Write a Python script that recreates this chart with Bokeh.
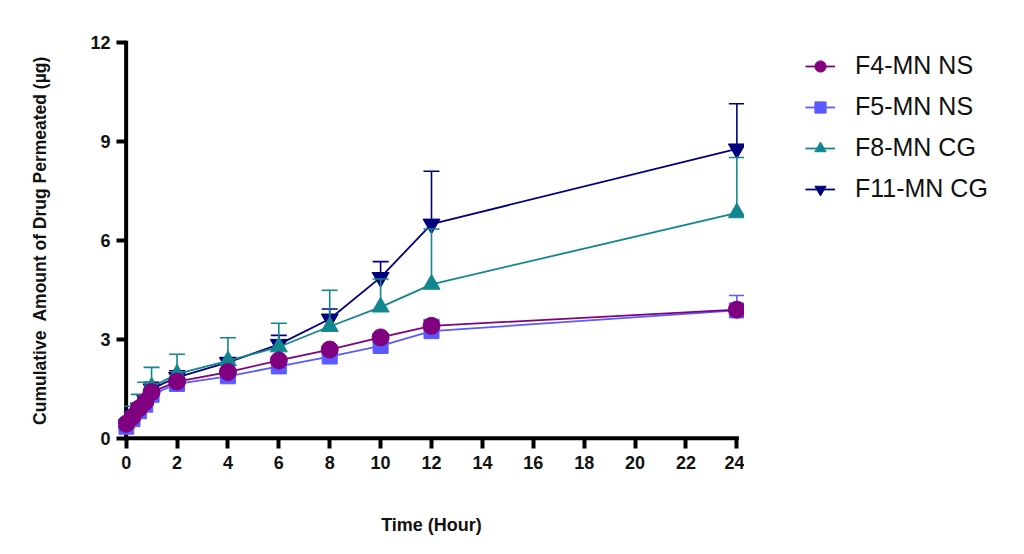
from bokeh.plotting import figure
from bokeh.layouts import row
from bokeh.models import (Range1d, FixedTicker, Legend, LegendItem, ColumnDataSource)
from bokeh.embed import file_html
from bokeh.resources import INLINE

# ---- data ----
time_h = [0, 0.25, 0.5, 0.75, 1, 2, 4, 6, 8, 10, 12, 24]
f4_mean = [0.44, 0.65, 0.90, 1.10, 1.40, 1.72, 2.01, 2.36, 2.69, 3.06, 3.41, 3.90]
f4_sd = [0.04, 0.05, 0.05, 0.06, 0.08, 0.08, 0.10, 0.10, 0.10, 0.10, 0.15, 0.10]
f5_mean = [0.35, 0.58, 0.82, 1.02, 1.32, 1.65, 1.88, 2.18, 2.48, 2.80, 3.25, 3.88]
f5_sd = [0.05, 0.05, 0.06, 0.08, 0.10, 0.10, 0.10, 0.10, 0.10, 0.10, 0.35, 0.45]
f8_mean = [0.45, 0.72, 0.95, 1.20, 1.55, 1.95, 2.35, 2.77, 3.39, 3.98, 4.67, 6.84]
f8_sd = [0.10, 0.25, 0.38, 0.50, 0.60, 0.60, 0.70, 0.72, 1.10, 0.85, 1.68, 1.68]
f11_mean = [0.40, 0.68, 0.92, 1.15, 1.50, 1.85, 2.30, 2.85, 3.62, 4.88, 6.50, 8.78]
f11_sd = [0.05, 0.10, 0.12, 0.15, 0.20, 0.20, 0.15, 0.27, 0.30, 0.48, 1.60, 1.37]

series_names = ["F4-MN NS", "F5-MN NS", "F8-MN CG", "F11-MN CG"]
x_ticks = [0, 2, 4, 6, 8, 10, 12, 14, 16, 18, 20, 22, 24]
y_ticks = [0, 3, 6, 9, 12]
x_label = "Time (Hour)"
y_label = "Cumulative\u00a0 Amount of Drug Permeated (\u00b5g)"

FONT = "Liberation Sans"
XPAD, YPAD = 0.3, 0.25
H = 545

p = figure(width=744, height=H, output_backend="svg", toolbar_location=None,
           x_range=Range1d(x_ticks[0] - XPAD, x_ticks[-1] + XPAD),
           y_range=Range1d(y_ticks[0] - YPAD, y_ticks[-1] + YPAD),
           min_border_left=118, min_border_right=0,
           min_border_top=34, min_border_bottom=99)
p.outline_line_color = None
p.xgrid.visible = False
p.ygrid.visible = False
p.background_fill_color = "white"
p.border_fill_color = "white"

# axis rules drawn through the data origin (Prism style)
p.segment(x0=[x_ticks[0]], y0=[y_ticks[0]], x1=[x_ticks[-1]], y1=[y_ticks[0]],
          line_color="black", line_width=4, line_cap="square")
p.segment(x0=[x_ticks[0]], y0=[y_ticks[0]], x1=[x_ticks[0]], y1=[y_ticks[-1]],
          line_color="black", line_width=4, line_cap="square")

styles = [
    ("#800080", "circle", 17, f4_mean, f4_sd),
    ("#5a5aff", "square", 15, f5_mean, f5_sd),
    ("#12868f", "triangle", 17, f8_mean, f8_sd),
    ("#00007f", "inverted_triangle", 17, f11_mean, f11_sd),
]

for idx in [3, 2, 1, 0]:
    color, marker, size, mean, sd = styles[idx]
    upper = [m + s for m, s in zip(mean, sd)]
    src = ColumnDataSource(dict(t=time_h, y=mean, up=upper))
    p.segment(x0="t", y0="y", x1="t", y1="up", source=src,
              line_color=color, line_width=1.6)
    p.scatter("t", "up", source=src, marker="dash", size=16,
              line_color=color, line_width=1.6)
    p.line("t", "y", source=src, line_color=color, line_width=1.8)
    p.scatter("t", "y", source=src, marker=marker, size=size,
              fill_color=color, line_color=color)

for ax in (p.xaxis[0], p.yaxis[0]):
    ax.axis_line_color = None
    ax.major_tick_line_width = 4
    ax.major_tick_line_color = "black"
    ax.major_tick_in = 8
    ax.major_tick_out = 2
    ax.minor_tick_line_color = None
    ax.major_label_text_font = FONT
    ax.major_label_text_font_style = "bold"
    ax.major_label_text_font_size = "18px"
    ax.major_label_text_color = "#111111"
    ax.axis_label_text_font = FONT
    ax.axis_label_text_font_style = "bold"
    ax.axis_label_text_color = "#111111"

p.xaxis[0].ticker = FixedTicker(ticks=x_ticks)
p.yaxis[0].ticker = FixedTicker(ticks=y_ticks)
p.xaxis[0].axis_label = x_label
p.yaxis[0].axis_label = y_label
p.xaxis[0].axis_label_text_font_size = "18px"
p.yaxis[0].axis_label_text_font_size = "17.5px"
p.xaxis[0].major_label_standoff = 7
p.yaxis[0].major_label_standoff = 6
p.xaxis[0].axis_label_standoff = 43
p.yaxis[0].axis_label_standoff = 37

# ---- legend panel: a second figure whose glyphs sit outside its view ----
q = figure(width=256, height=H, output_backend="svg", toolbar_location=None,
           x_range=Range1d(100, 101), y_range=Range1d(100, 101),
           x_axis_type=None, y_axis_type=None,
           min_border_left=0, min_border_right=0,
           min_border_top=0, min_border_bottom=0)
q.outline_line_color = None
q.xgrid.visible = False
q.ygrid.visible = False
q.background_fill_color = "white"
q.border_fill_color = "white"

items = []
for idx in range(4):
    color, marker, size, mean, sd = styles[idx]
    src = ColumnDataSource(dict(t=time_h, y=mean))
    ln = q.line("t", "y", source=src, line_color=color, line_width=1.8)
    mk = q.scatter("t", "y", source=src, marker=marker, size=size,
                   fill_color=color, line_color=color)
    items.append(LegendItem(label=series_names[idx], renderers=[ln, mk]))

legend = Legend(items=items, location=(61, 243),
                label_text_font=FONT, label_text_font_size="25px",
                label_text_color="#111111",
                glyph_width=30, glyph_height=28, label_height=28,
                label_standoff=20, spacing=12, padding=0, margin=0,
                border_line_color=None, background_fill_alpha=0)
q.add_layout(legend)

open("out.html", "w").write(file_html(row(p, q), INLINE))
